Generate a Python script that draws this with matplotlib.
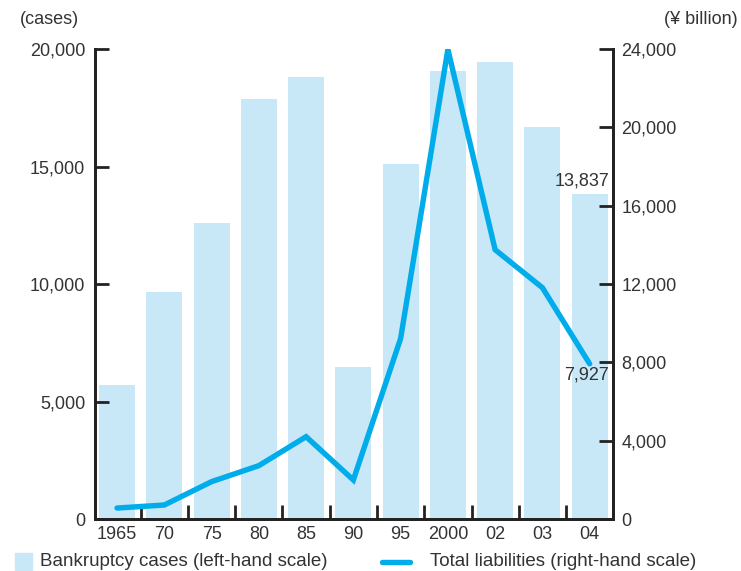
import matplotlib
matplotlib.use("Agg")
import matplotlib.pyplot as plt
from matplotlib.patches import Rectangle
from matplotlib.lines import Line2D

# Data
years = ["1965", "70", "75", "80", "85", "90", "95", "2000", "02", "03", "04"]
cases = [5700, 9660, 12606, 17884, 18812, 6468, 15108, 19080, 19458, 16680, 13837]
liabilities = [562, 717, 1910, 2727, 4206, 1995, 9218, 23988, 13755, 11816, 7927]
left_ticks = [0, 5000, 10000, 15000, 20000]
right_ticks = [0, 4000, 8000, 12000, 16000, 20000, 24000]

BAR_COLOR = "#c8e8f8"
LINE_COLOR = "#00adea"
TEXT_COLOR = "#333333"
FONT = "Liberation Sans"
FS = 13

plt.rcParams["font.family"] = [FONT, "DejaVu Sans"]

fig = plt.figure(figsize=(7.41, 5.71), dpi=100)
ax = fig.add_axes([0.128, 0.091, 0.699, 0.823])
ax2 = ax.twinx()

x = list(range(len(years)))
ax.bar(x, cases, width=0.76, color=BAR_COLOR, zorder=1)
ax2.plot(x, liabilities, color=LINE_COLOR, lw=3.9, solid_capstyle="round",
         solid_joinstyle="miter", zorder=3)

ax.set_xlim(-0.47, 10.49)
ax.set_ylim(0, 20000)
ax2.set_ylim(0, 24000)

# Spines
for a in (ax, ax2):
    a.spines["top"].set_visible(False)
    for s in ("left", "right", "bottom"):
        a.spines[s].set_linewidth(2)
        a.spines[s].set_color("#222222")

# Left axis ticks
ax.set_yticks(left_ticks)
ax.set_yticklabels([f"{v:,}" for v in left_ticks])
ax.tick_params(axis="y", direction="in", length=10, width=2, color="#222222",
               labelsize=FS, labelcolor=TEXT_COLOR, pad=7)

# Right axis ticks
ax2.set_yticks(right_ticks)
ax2.set_yticklabels([f"{v:,}" for v in right_ticks])
ax2.tick_params(axis="y", direction="in", length=10, width=2, color="#222222",
                labelsize=FS, labelcolor=TEXT_COLOR, pad=6)

# Category labels at centres, tick marks at boundaries
ax.set_xticks(x)
ax.set_xticklabels(years)
ax.tick_params(axis="x", which="major", length=0, labelsize=FS,
               labelcolor=TEXT_COLOR, pad=5)
ax.set_xticks([i + 0.5 for i in range(len(years) - 1)], minor=True)
ax.tick_params(axis="x", which="minor", direction="in", length=10, width=2,
               color="#222222")

for lab in ax.get_xticklabels() + ax.get_yticklabels() + ax2.get_yticklabels():
    lab.set_fontfamily(FONT)

# Value labels
ax.annotate(f"{cases[-1]:,}", xy=(x[-1], cases[-1]), xytext=(14, 3),
            textcoords="offset points", ha="right", va="bottom",
            fontsize=FS, color=TEXT_COLOR)
ax2.annotate(f"{liabilities[-1]:,}", xy=(x[-1], liabilities[-1]), xytext=(14, -2),
             textcoords="offset points", ha="right", va="top",
             fontsize=FS, color=TEXT_COLOR)

# Unit labels
fig.text(20 / 741, 1 - 19 / 571, "(cases)", ha="left", va="center",
         fontsize=FS, color=TEXT_COLOR)
fig.text(738 / 741, 1 - 19 / 571, "(¥ billion)", ha="right", va="center",
         fontsize=FS, color=TEXT_COLOR)

# Legend
leg_y = 1 - 562 / 571
fig.patches.append(Rectangle((15 / 741, 1 - 570 / 571), 17 / 741, 17 / 571,
                             transform=fig.transFigure, color=BAR_COLOR))
fig.text(40 / 741, leg_y, "Bankruptcy cases (left-hand scale)", ha="left",
         va="center", fontsize=13.5, color=TEXT_COLOR)
fig.lines.append(Line2D([382 / 741, 410 / 741], [leg_y, leg_y],
                        transform=fig.transFigure, color=LINE_COLOR, lw=3.9,
                        solid_capstyle="round"))
fig.text(430 / 741, leg_y, "Total liabilities (right-hand scale)", ha="left",
         va="center", fontsize=13.5, color=TEXT_COLOR)

fig.savefig("out.png", dpi=100)
